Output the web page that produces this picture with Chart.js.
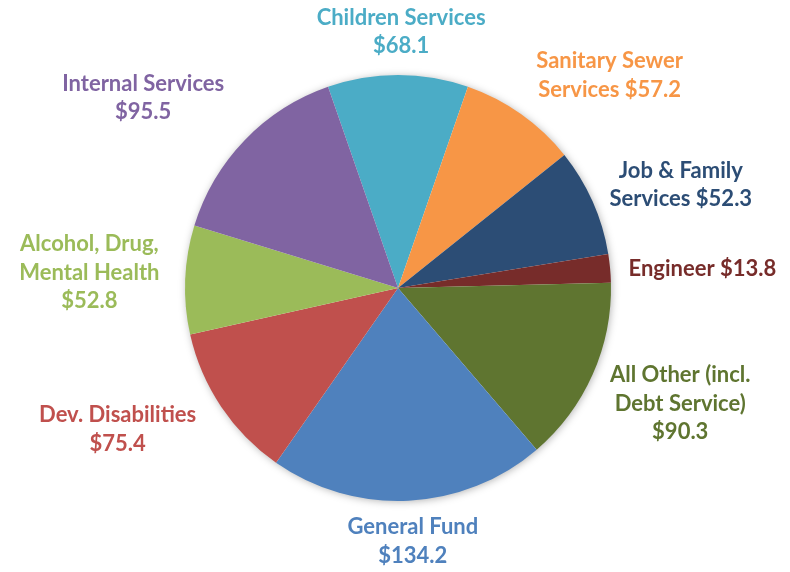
<!DOCTYPE html>
<html>
<head>
<meta charset="utf-8">
<script src="https://cdn.jsdelivr.net/npm/chart.js@4.4.0/dist/chart.umd.min.js"></script>
<style>
  html, body { margin: 0; padding: 0; background: #fff; }
  #wrap { width: 790px; height: 572px; position: relative; }
</style>
</head>
<body>
<div id="wrap"><canvas id="pie"></canvas></div>
<script>
// Budget by fund ($ millions), clockwise from the top
const funds = [
  ['Children Services'],
  ['Sanitary Sewer', 'Services'],
  ['Job & Family', 'Services'],
  ['Engineer'],
  ['All Other (incl.', 'Debt Service)'],
  ['General Fund'],
  ['Dev. Disabilities'],
  ['Alcohol, Drug,', 'Mental Health'],
  ['Internal Services']
];
const amounts = [68.1, 57.2, 52.3, 13.8, 90.3, 134.2, 75.4, 52.8, 95.5];
const sliceColors = ['#4BACC6', '#F79646', '#2C4D75', '#772C2A', '#5F7530',
                     '#4F81BD', '#C0504D', '#9BBB59', '#8064A2'];
const textColors = ['#4BACC6', '#F79646', '#2C4D75', '#772C2A', '#5F7530',
                    '#4F81BD', '#C0504D', '#9BBB59', '#8064A2'];
// whether the amount goes on the last name line or on its own line
const amountInline = [false, true, true, true, false, false, false, false, false];
// label placement: angle nudge (deg) off the slice middle, distance from centre (px)
const labelNudge = [0.7, 9.6, 3.9, 1.7, -1.7, -0.5, 7.1, 0.6, -7.2];
const labelDist = [256, 300, 301, 305, 305, 254, 314, 309, 318];

const FONT = 'bold 22px Lato, "Open Sans", sans-serif';
const LINE_H = 28.5;

function labelLines(i) {
  const lines = funds[i].slice();
  const amt = '$' + amounts[i].toFixed(1);
  if (amountInline[i]) lines[lines.length - 1] += ' ' + amt;
  else lines.push(amt);
  return lines;
}

// soft drop shadow under the whole pie
const pieShadow = {
  id: 'pieShadow',
  beforeDatasetsDraw(chart) {
    const arc = chart.getDatasetMeta(0).data[0];
    if (!arc) return;
    const ctx = chart.ctx;
    ctx.save();
    ctx.shadowColor = 'rgba(0,0,0,0.35)';
    ctx.shadowBlur = 9;
    ctx.shadowOffsetX = 1;
    ctx.shadowOffsetY = 1;
    ctx.fillStyle = '#fff';
    ctx.beginPath();
    ctx.arc(arc.x, arc.y, arc.outerRadius - 1, 0, Math.PI * 2);
    ctx.fill();
    ctx.restore();
  }
};

// coloured name + amount outside each slice
const outsideLabels = {
  id: 'outsideLabels',
  afterDatasetsDraw(chart) {
    const ctx = chart.ctx;
    ctx.save();
    ctx.font = FONT;
    ctx.textAlign = 'center';
    ctx.textBaseline = 'middle';
    chart.getDatasetMeta(0).data.forEach((arc, i) => {
      const mid = (arc.startAngle + arc.endAngle) / 2 + labelNudge[i] * Math.PI / 180;
      const cx = arc.x + Math.cos(mid) * labelDist[i];
      const cy = arc.y + Math.sin(mid) * labelDist[i];
      const lines = labelLines(i);
      const top = cy - (lines.length - 1) * LINE_H / 2;
      ctx.fillStyle = textColors[i];
      lines.forEach((t, k) => ctx.fillText(t, cx, top + k * LINE_H));
    });
    ctx.restore();
  }
};

new Chart(document.getElementById('pie'), {
  type: 'pie',
  data: {
    labels: funds.map(f => f.join(' ')),
    datasets: [{
      data: amounts,
      backgroundColor: sliceColors,
      borderWidth: 0
    }]
  },
  options: {
    responsive: true,
    maintainAspectRatio: false,
    animation: false,
    rotation: -19.17,
    layout: { padding: { left: 185, right: 179, top: 75, bottom: 71 } },
    plugins: {
      legend: { display: false },
      tooltip: { enabled: false }
    }
  },
  plugins: [pieShadow, outsideLabels]
});
</script>
</body>
</html>
